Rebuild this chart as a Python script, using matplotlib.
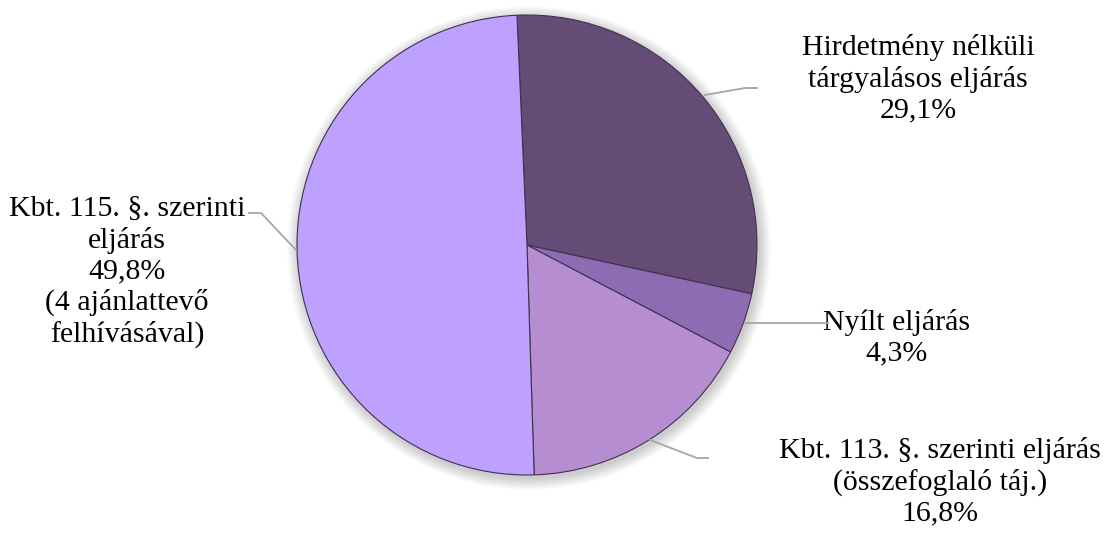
import matplotlib.pyplot as plt
from matplotlib.patches import Circle

# Slice data (clockwise from the top)
labels = ["Hirdetmény nélküli\ntárgyalásos eljárás\n29,1%",
          "Nyílt eljárás\n4,3%",
          "Kbt. 113. §. szerinti eljárás\n(összefoglaló táj.)\n16,8%",
          "Kbt. 115. §. szerinti\neljárás\n49,8%\n(4 ajánlattevő\nfelhívásával)"]
shares = [29.1, 4.3, 16.8, 49.8]
colors = ["#654C76", "#8D6CB3", "#B58DD0", "#BEA0FE"]

W, H = 1104, 534
fig = plt.figure(figsize=(W / 100, H / 100), dpi=100)
ax = fig.add_axes([0, 0, 1, 1])

cx, cy, r = 527, H - 245, 230

# soft shadow around the pie
for i in range(10):
    ax.add_patch(Circle((cx + 2, cy - 3), r + 1 + i * 1.2, color="black",
                        alpha=0.02, lw=0, zorder=1))
ax.add_patch(Circle((cx, cy), r, color="white", lw=0, zorder=1.5))

ax.pie(shares, colors=colors, startangle=92.5, counterclock=False,
       center=(cx, cy), radius=r, frame=True,
       wedgeprops=dict(edgecolor="#3f3050", linewidth=0.8, zorder=2))
ax.set_xlim(0, W)
ax.set_ylim(0, H)
ax.set_aspect("equal")
ax.axis("off")

font = dict(family="Liberation Serif", fontsize=21.5, linespacing=1.22,
            ha="center", va="center", color="black")

# labels (pixel coords, y measured from top)
ax.text(918, H - 79, labels[0], **font)
ax.text(897, H - 338, labels[1], **font)
ax.text(940, H - 482, labels[2], **font)
ax.text(127, H - 272, labels[3], **font)

# leader lines
leader = dict(color="#a6a6a6", lw=1.3, zorder=3)
ax.plot([705, 745, 757], [H - 95, H - 88, H - 88], **leader)
ax.plot([745, 828], [H - 323, H - 323], **leader)
ax.plot([650, 697, 708], [H - 440, H - 458, H - 458], **leader)
ax.plot([249, 261, 296], [H - 213, H - 213, H - 250], **leader)

fig.savefig("out.png", dpi=100)
